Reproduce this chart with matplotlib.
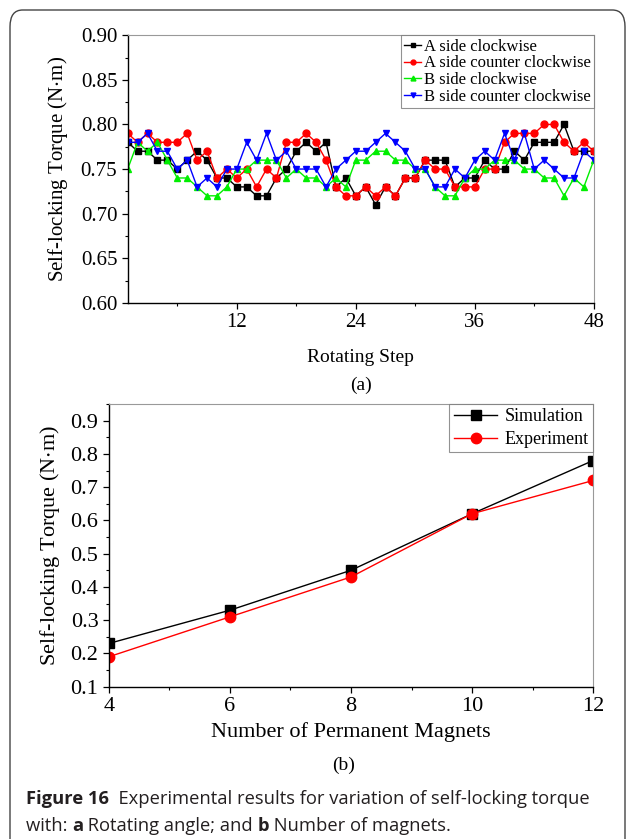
import matplotlib
matplotlib.use("Agg")
import matplotlib.pyplot as plt
from matplotlib.patches import FancyBboxPatch
from matplotlib.ticker import MultipleLocator

# (a) self-locking torque over 48 rotating steps
steps = list(range(1, 49))
a_cw = [0.78, 0.77, 0.77, 0.76, 0.76, 0.75, 0.76, 0.77, 0.76, 0.74, 0.74, 0.73,
        0.73, 0.72, 0.72, 0.74, 0.75, 0.77, 0.78, 0.77, 0.78, 0.73, 0.74, 0.72,
        0.73, 0.71, 0.73, 0.72, 0.74, 0.74, 0.76, 0.76, 0.76, 0.73, 0.74, 0.74,
        0.76, 0.75, 0.75, 0.77, 0.76, 0.78, 0.78, 0.78, 0.80, 0.77, 0.77, 0.77]
a_ccw = [0.79, 0.78, 0.79, 0.78, 0.78, 0.78, 0.79, 0.76, 0.77, 0.74, 0.75, 0.74,
         0.75, 0.73, 0.75, 0.74, 0.78, 0.78, 0.79, 0.78, 0.76, 0.73, 0.72, 0.72,
         0.73, 0.72, 0.73, 0.72, 0.74, 0.74, 0.76, 0.75, 0.75, 0.73, 0.73, 0.73,
         0.75, 0.75, 0.78, 0.79, 0.79, 0.79, 0.80, 0.80, 0.78, 0.77, 0.78, 0.77]
b_cw = [0.75, 0.78, 0.77, 0.78, 0.76, 0.74, 0.74, 0.73, 0.72, 0.72, 0.73, 0.75,
        0.75, 0.76, 0.76, 0.76, 0.74, 0.75, 0.74, 0.74, 0.73, 0.74, 0.73, 0.76,
        0.76, 0.77, 0.77, 0.76, 0.76, 0.75, 0.75, 0.73, 0.72, 0.72, 0.74, 0.75,
        0.75, 0.76, 0.76, 0.76, 0.75, 0.75, 0.74, 0.74, 0.72, 0.74, 0.73, 0.76]
b_ccw = [0.78, 0.78, 0.79, 0.77, 0.77, 0.75, 0.76, 0.73, 0.74, 0.73, 0.75, 0.75,
         0.78, 0.76, 0.79, 0.76, 0.77, 0.75, 0.75, 0.75, 0.73, 0.75, 0.76, 0.77,
         0.77, 0.78, 0.79, 0.78, 0.77, 0.75, 0.75, 0.73, 0.73, 0.75, 0.74, 0.76,
         0.77, 0.76, 0.79, 0.76, 0.79, 0.75, 0.76, 0.75, 0.74, 0.74, 0.77, 0.76]

# (b) torque versus number of permanent magnets
magnets = [4, 6, 8, 10, 12]
simulation = [0.23, 0.33, 0.45, 0.62, 0.78]
experiment = [0.19, 0.31, 0.43, 0.62, 0.72]

serif = "Liberation Serif"
plt.rcParams["font.family"] = serif
plt.rcParams["mathtext.fontset"] = "stix"

fig = plt.figure(figsize=(6.29, 8.39), dpi=100)

# rounded frame around the figure panel
frame = FancyBboxPatch((10 / 629, -0.05), 615 / 629, 1.05 - 10 / 839,
                       boxstyle="round,pad=0,rounding_size=0.02",
                       transform=fig.transFigure, fill=False,
                       edgecolor="#444444", linewidth=1.0)
fig.add_artist(frame)


def style_axes(ax):
    for side in ("top", "right"):
        ax.spines[side].set_color("#999999")
    for side in ("left", "bottom"):
        ax.spines[side].set_linewidth(1.0)
    ax.tick_params(which="both", direction="out", top=False, right=False)
    ax.tick_params(which="major", length=4, width=0.9, labelsize=15)
    ax.tick_params(which="minor", length=2.5, width=0.8)


# ---- panel (a)
ax1 = fig.add_axes([0.203, 0.639, 0.741, 0.319])
series = [
    (a_cw, "black", "s", "A side clockwise"),
    (a_ccw, "#ff0000", "o", "A side counter clockwise"),
    (b_cw, "#00ee00", "^", "B side clockwise"),
    (b_ccw, "#0000ff", "v", "B side counter clockwise"),
]
for vals, col, mk, lab in series:
    ax1.plot(steps, vals, color=col, marker=mk, markersize=5, linewidth=1.0, label=lab)

ax1.set_xlim(1, 48)
ax1.set_ylim(0.60, 0.90)
ax1.xaxis.set_major_locator(MultipleLocator(12))
ax1.xaxis.set_minor_locator(MultipleLocator(6))
ax1.yaxis.set_major_locator(MultipleLocator(0.05))
ax1.yaxis.set_minor_locator(MultipleLocator(0.025))
ax1.set_yticks([0.60, 0.65, 0.70, 0.75, 0.80, 0.85, 0.90])
ax1.set_yticklabels(["0.60", "0.65", "0.70", "0.75", "0.80", "0.85", "0.90"])
ax1.set_xticks([12, 24, 36, 48])
style_axes(ax1)
ax1.set_xlabel("Rotating Step", fontsize=14, labelpad=12)
ax1.set_ylabel("Self-locking Torque (N$\\cdot$m)", fontsize=15, labelpad=8)
leg1 = ax1.legend(loc="upper right", fontsize=12, handlelength=1.0,
                  handletextpad=0.15, borderpad=0.2, labelspacing=0.05,
                  borderaxespad=0, markerscale=0.7, fancybox=False, frameon=True)
leg1.get_frame().set_edgecolor("#777777")
leg1.get_frame().set_linewidth(0.8)
fig.text(0.574, 0.541, "(a)", fontsize=14, ha="center", va="center")

# ---- panel (b)
ax2 = fig.add_axes([0.173, 0.1815, 0.770, 0.337])
ax2.plot(magnets, simulation, color="black", marker="s", markersize=7.5,
         linewidth=1.0, label="Simulation")
ax2.plot(magnets, experiment, color="#ff0000", marker="o", markersize=7.5,
         linewidth=1.0, label="Experiment")
ax2.set_xlim(4, 12)
ax2.set_ylim(0.1, 0.95)
ax2.xaxis.set_major_locator(MultipleLocator(2))
ax2.xaxis.set_minor_locator(MultipleLocator(1))
ax2.set_yticks([0.1, 0.2, 0.3, 0.4, 0.5, 0.6, 0.7, 0.8, 0.9])
ax2.yaxis.set_minor_locator(MultipleLocator(0.05))
style_axes(ax2)
ax2.tick_params(which="major", labelsize=16)
ax2.set_xlabel("Number of Permanent Magnets", fontsize=16, labelpad=4)
ax2.set_ylabel("Self-locking Torque (N$\\cdot$m)", fontsize=16, labelpad=6)
leg2 = ax2.legend(loc="upper right", fontsize=13, handlelength=2.4,
                  handletextpad=0.4, borderpad=0.25, labelspacing=0.3,
                  borderaxespad=0, fancybox=False, frameon=True)
leg2.get_frame().set_edgecolor("#777777")
leg2.get_frame().set_linewidth(0.8)
fig.text(0.546, 0.088, "(b)", fontsize=14, ha="center", va="center")

# ---- caption with bold pieces
cap = fig.add_axes([0, 0, 1, 1])
cap.axis("off")
sans = "Open Sans"
ink = "#231f20"
cap_size = 13.2


def caption_line(parts, x, y):
    prev = None
    for txt, weight in parts:
        if prev is None:
            prev = cap.text(x, y, txt, transform=fig.transFigure, fontsize=cap_size,
                            family=sans, fontweight=weight, color=ink, va="bottom")
        else:
            prev = cap.annotate(txt, xy=(1, 0), xycoords=prev, fontsize=cap_size,
                                family=sans, fontweight=weight, color=ink,
                                va="bottom", ha="left")


caption_line([("Figure 16", "bold"),
              ("  Experimental results for variation of self-locking torque", "normal")],
             26 / 629, 1 - 808 / 839)
caption_line([("with: ", "normal"), ("a", "bold"), (" Rotating angle; and ", "normal"),
              ("b", "bold"), (" Number of magnets.", "normal")],
             26 / 629, 1 - 835 / 839)

fig.savefig("out.png", dpi=100)
